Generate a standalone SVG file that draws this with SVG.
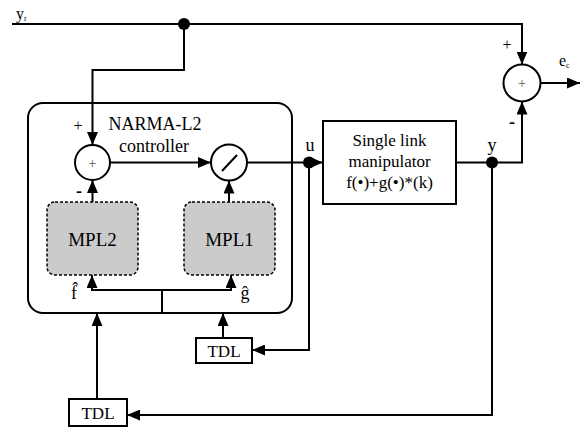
<svg xmlns="http://www.w3.org/2000/svg" width="586" height="428" viewBox="0 0 586 428">
<style>
.ln{fill:none;stroke:#000;stroke-width:2}
.arr{fill:none;stroke:#000;stroke-width:2;marker-end:url(#ah)}
.blk{fill:#fff;stroke:#000;stroke-width:2}
.mpl{fill:#cbcbcb;stroke:#000;stroke-width:1.5;stroke-dasharray:3 2}
.t{font-family:"Liberation Serif","Times New Roman",serif;fill:#000}
.g{fill:#555}
.dot{fill:#000}
</style>
<defs>
<marker id="ah" markerWidth="13" markerHeight="11" refX="13" refY="5.5" orient="auto" markerUnits="userSpaceOnUse"><path d="M0,0 L13,5.5 L0,11 z" fill="#000"/></marker>
</defs>
<rect width="586" height="428" fill="#fff"/>
<g id="controller">
<rect x="28" y="103" width="264" height="210" rx="15" class="blk"/>
<text class="t" x="155" y="130" font-size="18" text-anchor="middle">NARMA-L2</text>
<text class="t" x="154" y="152" font-size="18" text-anchor="middle">controller</text>
</g>
<g id="sum1">
<circle cx="92.5" cy="162.5" r="17.5" class="blk"/>
<text class="t g" x="92.5" y="167.5" font-size="14" text-anchor="middle">+</text>
</g>
<g id="div">
<circle cx="229" cy="162.5" r="18" class="blk"/>
<line x1="222" y1="171" x2="237" y2="155" class="ln"/>
</g>
<g id="mpl2">
<rect x="47" y="202" width="91" height="73" rx="8" class="mpl"/>
<text class="t" x="92.5" y="246" font-size="19" text-anchor="middle">MPL2</text>
</g>
<g id="mpl1">
<rect x="184" y="202" width="91" height="73" rx="8" class="mpl"/>
<text class="t" x="229.5" y="246" font-size="19" text-anchor="middle">MPL1</text>
</g>
<g id="plant">
<rect x="323" y="121" width="133" height="83" class="blk"/>
<text class="t" x="389.5" y="146" font-size="17" text-anchor="middle">Single link</text>
<text class="t" x="389.5" y="167" font-size="17" text-anchor="middle">manipulator</text>
<text class="t" x="389.5" y="188" font-size="17" text-anchor="middle">f(•)+g(•)*(k)</text>
</g>
<g id="sum2">
<circle cx="522" cy="83" r="18.5" class="blk"/>
<text class="t g" x="522" y="88" font-size="14" text-anchor="middle">+</text>
</g>
<g id="tdl1">
<rect x="196" y="338" width="56" height="25" class="blk"/>
<text class="t" x="224" y="357" font-size="17" text-anchor="middle">TDL</text>
</g>
<g id="tdl2">
<rect x="69" y="399" width="58" height="27" class="blk"/>
<text class="t" x="98" y="419" font-size="17" text-anchor="middle">TDL</text>
</g>
<g id="connectors">
<path d="M12,24 H522 V64.5" class="arr"/>
<path d="M184,24 V70 H92.5 V145" class="arr"/>
<path d="M110,162.5 H211" class="arr"/>
<path d="M92.5,202 V180" class="arr"/>
<path d="M229,202 V180.5" class="arr"/>
<path d="M247,162.5 H323" class="arr"/>
<path d="M456,162.5 H522 V101.5" class="arr"/>
<path d="M540.5,83 H580" class="arr"/>
<path d="M162,313 V290" class="ln"/>
<path d="M162,290 H92 V275" class="arr"/>
<path d="M162,290 H231 V275" class="arr"/>
<path d="M97,399 V313" class="arr"/>
<path d="M223,338 V313" class="arr"/>
<path d="M309,162.5 V350 H252" class="arr"/>
<path d="M492,162.5 V415 H127" class="arr"/>
<circle cx="184" cy="24" r="6" class="dot"/>
<circle cx="309" cy="162.5" r="6" class="dot"/>
<circle cx="492" cy="162.5" r="6" class="dot"/>
</g>
<g id="labels">
<text class="t" x="16" y="19" font-size="16">y<tspan font-size="8" dy="2">r</tspan></text>
<text class="t" x="78" y="131" font-size="16" text-anchor="middle">+</text>
<text class="t" x="79" y="197" font-size="18" font-weight="bold" text-anchor="middle">-</text>
<text class="t" x="507" y="50" font-size="16" text-anchor="middle">+</text>
<text class="t" x="512" y="128" font-size="18" font-weight="bold" text-anchor="middle">-</text>
<text class="t" x="559" y="66" font-size="16">e<tspan font-size="8" dy="2">c</tspan></text>
<text class="t" x="310" y="151" font-size="18" text-anchor="middle">u</text>
<text class="t" x="492" y="151" font-size="18" text-anchor="middle">y</text>
<text class="t" x="74" y="299" font-size="18" text-anchor="middle">f̂</text>
<text class="t" x="245" y="299" font-size="18" text-anchor="middle">ĝ</text>
</g>
</svg>
